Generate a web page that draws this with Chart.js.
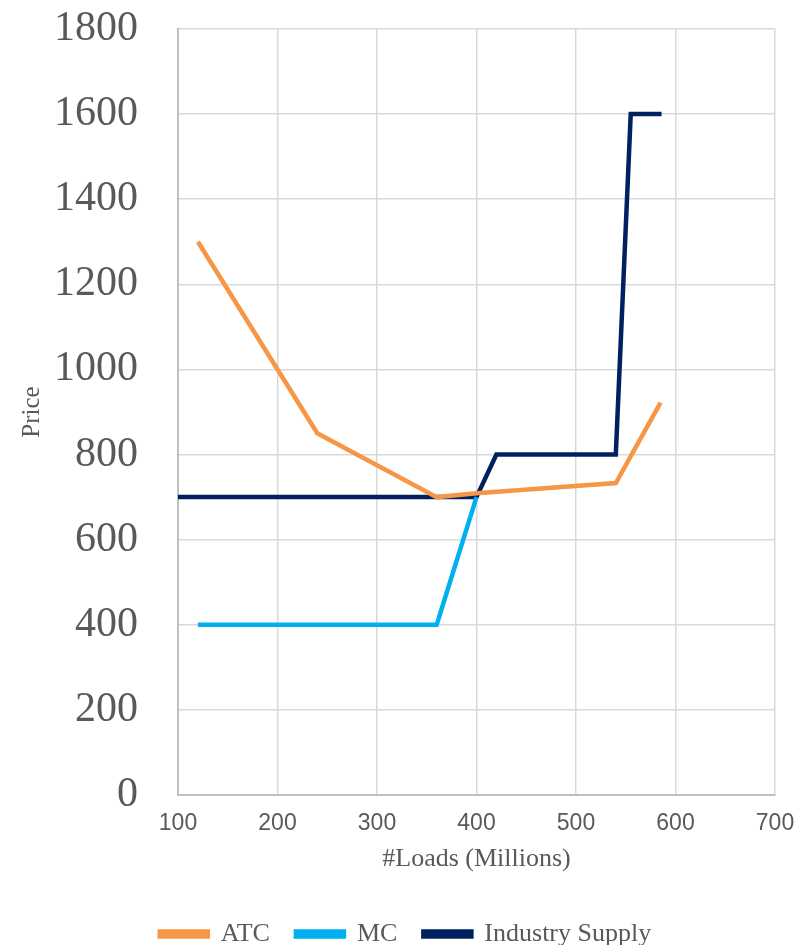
<!DOCTYPE html>
<html><head><meta charset="utf-8">
<script src="https://cdn.jsdelivr.net/npm/chart.js@4/dist/chart.umd.min.js"></script>
<style>html,body{margin:0;padding:0;background:#fff}#wrap{width:805px;height:945px}</style>
</head><body><div id="wrap"><canvas id="c"></canvas></div>
<script>
const atcX = [120, 240, 360, 400, 540, 585];
const atcY = [1300, 850, 700, 709, 733, 922];
const mcX = [120, 360, 400];
const mcY = [400, 400, 700];
const supplyX = [100, 400, 420, 540, 555, 586];
const supplyY = [700, 700, 800, 800, 1600, 1600];
const xTicks = [100, 200, 300, 400, 500, 600, 700];
const yTicks = [0, 200, 400, 600, 800, 1000, 1200, 1400, 1600, 1800];

const pts = (xs, ys) => xs.map((x, i) => ({x, y: ys[i]}));
const serif = "'Liberation Serif', 'DejaVu Serif', serif";
const sans = "'Liberation Sans', Arial, sans-serif";
const grey = '#595959';

const legendShift = {
  id: 'legendShift',
  afterLayout(chart) {
    if (chart.legend) { chart.legend.left += 15; chart.legend.right += 15; }
  }
};

new Chart(document.getElementById('c'), {
  type: 'scatter',
  plugins: [legendShift],
  data: {
    datasets: [
      {label: 'ATC', data: pts(atcX, atcY), borderColor: '#F79646', backgroundColor: '#F79646'},
      {label: 'MC', data: pts(mcX, mcY), borderColor: '#00B0F0', backgroundColor: '#00B0F0'},
      {label: 'Industry Supply', data: pts(supplyX, supplyY), borderColor: '#002060', backgroundColor: '#002060'}
    ].map(d => Object.assign(d, {showLine: true, pointRadius: 0, borderWidth: 4.5, tension: 0, borderJoinStyle: 'miter'}))
  },
  options: {
    responsive: true, maintainAspectRatio: false, animation: false,
    layout: {autoPadding: false, padding: {top: 29, right: 30, left: 6, bottom: -12}},
    plugins: {
      tooltip: {enabled: false},
      legend: {
        position: 'bottom',
        labels: {font: {family: serif, size: 26}, color: grey, boxWidth: 48, boxHeight: 5, padding: 26}
      }
    },
    scales: {
      x: {
        type: 'linear', min: 100, max: 700,
        afterBuildTicks: s => { s.ticks = xTicks.map(v => ({value: v})); },
        afterFit: s => { s.paddingLeft = 0; s.paddingRight = 0; s.height = 100; },
        ticks: {font: {family: sans, size: 23}, color: grey, padding: 15, callback: v => String(v)},
        grid: {color: '#D9D9D9', lineWidth: 1.5, drawTicks: false},
        border: {color: '#BFBFBF', width: 2},
        title: {display: true, text: '#Loads (Millions)', font: {family: serif, size: 26}, color: grey, padding: {top: 8, bottom: 20}}
      },
      y: {
        min: 0, max: 1800,
        afterBuildTicks: s => { s.ticks = yTicks.map(v => ({value: v})); },
        afterFit: s => { s.width = 172; s.paddingTop = 0; s.paddingBottom = 0; },
        ticks: {font: {family: serif, size: 42}, color: grey, padding: 40, callback: v => String(v)},
        grid: {color: '#D9D9D9', lineWidth: 1.5, drawTicks: false},
        border: {color: '#BFBFBF', width: 2},
        title: {display: true, text: 'Price', font: {family: serif, size: 25}, color: grey, padding: {top: 11, bottom: 10}}
      }
    }
  }
});
</script></body></html>
